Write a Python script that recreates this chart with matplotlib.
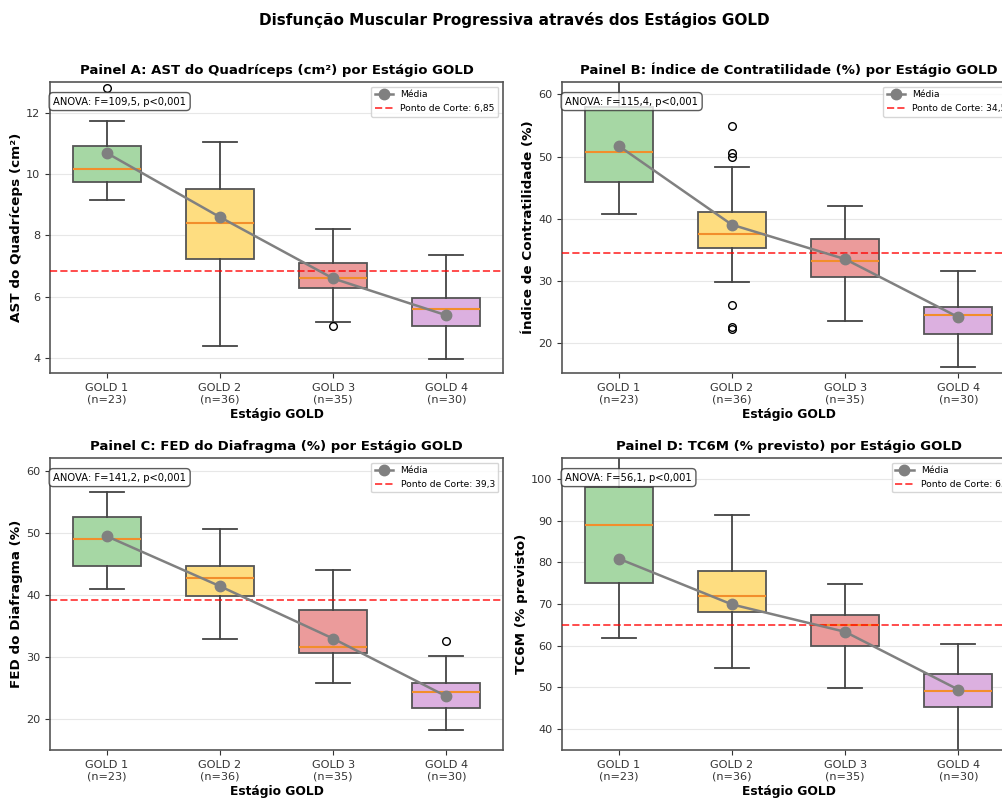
import matplotlib
matplotlib.use('Agg')
import matplotlib.pyplot as plt

# dados (estatísticas dos boxplots por estágio GOLD)
stages = ['GOLD 1', 'GOLD 2', 'GOLD 3', 'GOLD 4']
n_per_stage = [23, 36, 35, 30]
box_colors = ['#a6d7a4', '#fedd80', '#eb9b9b', '#dcb0e0']

# Painel A - AST do Quadríceps
a_lo = [9.17, 4.41, 5.18, 3.99]
a_q1 = [9.74, 7.22, 6.30, 5.04]
a_med = [10.17, 8.42, 6.61, 5.62]
a_q3 = [10.91, 9.50, 7.09, 5.95]
a_hi = [11.73, 11.06, 8.20, 7.36]
a_mean = [10.69, 8.60, 6.60, 5.40]
a_fliers = [[12.80], [], [5.05], []]

# Painel B - Índice de Contratilidade
b_lo = [40.75, 29.73, 23.55, 16.08]
b_q1 = [45.97, 35.27, 30.59, 21.45]
b_med = [50.75, 37.58, 33.12, 24.46]
b_q3 = [57.90, 41.02, 36.67, 25.86]
b_hi = [66.0, 48.33, 41.99, 31.51]
b_mean = [51.72, 39.03, 33.49, 24.14]
b_fliers = [[], [54.95, 50.54, 50.0, 26.18, 22.63, 22.31], [], []]

# Painel C - FED do Diafragma
c_lo = [40.97, 32.94, 25.88, 18.27]
c_q1 = [44.69, 39.89, 30.67, 21.73]
c_med = [49.00, 42.70, 31.64, 24.31]
c_q3 = [52.61, 44.74, 37.63, 25.82]
c_hi = [56.66, 50.73, 44.10, 30.19]
c_mean = [49.54, 41.46, 32.99, 23.67]
c_fliers = [[], [], [], [32.56]]

# Painel D - TC6M
d_lo = [61.83, 54.77, 49.96, 33.0]
d_q1 = [75.06, 68.00, 59.90, 45.39]
d_med = [89.01, 72.01, 64.88, 49.24]
d_q3 = [98.2, 78.03, 67.28, 53.25]
d_hi = [110.0, 91.34, 74.90, 60.47]
d_mean = [80.91, 69.93, 63.35, 49.48]
d_fliers = [[], [], [], []]

titles = ['Painel A: AST do Quadríceps (cm²) por Estágio GOLD',
          'Painel B: Índice de Contratilidade (%) por Estágio GOLD',
          'Painel C: FED do Diafragma (%) por Estágio GOLD',
          'Painel D: TC6M (% previsto) por Estágio GOLD']
ylabels = ['AST do Quadríceps (cm²)', 'Índice de Contratilidade (%)',
           'FED do Diafragma (%)', 'TC6M (% previsto)']
anova_f = ['109,5', '115,4', '141,2', '56,1']
cutoffs = [6.85, 34.5, 39.3, 65]
cutoff_labels = ['6,85', '34,5', '39,3', '65']
ylims = [(3.52, 13.0), (15.16, 62.0), (15.0, 62.16), (35.0, 105.05)]
yticks = [[4, 6, 8, 10, 12], [20, 30, 40, 50, 60], [20, 30, 40, 50, 60],
          [40, 50, 60, 70, 80, 90, 100]]

panels = [
    (a_lo, a_q1, a_med, a_q3, a_hi, a_mean, a_fliers),
    (b_lo, b_q1, b_med, b_q3, b_hi, b_mean, b_fliers),
    (c_lo, c_q1, c_med, c_q3, c_hi, c_mean, c_fliers),
    (d_lo, d_q1, d_med, d_q3, d_hi, d_mean, d_fliers),
]

W, H = 1003, 800
fig = plt.figure(figsize=(W / 100, H / 100), dpi=100)

# posições dos eixos em pixels (esq, topo, dir, base) - painéis da direita saem da figura
boxes_px = [(50, 82, 503, 373), (562, 82, 1015, 373),
            (50, 458, 503, 750), (562, 458, 1015, 750)]

xt_labels = [f"{s}\n(n={n})" for s, n in zip(stages, n_per_stage)]
dark = '#444444'

for i, (lo, q1, med, q3, hi, mean, fliers) in enumerate(panels):
    l, t, r, b = boxes_px[i]
    ax = fig.add_axes([l / W, 1 - b / H, (r - l) / W, (b - t) / H])

    stats = []
    for k in range(len(stages)):
        stats.append({'whislo': lo[k], 'q1': q1[k], 'med': med[k], 'q3': q3[k],
                      'whishi': hi[k], 'fliers': fliers[k], 'label': xt_labels[k]})

    bp = ax.bxp(stats, positions=[1, 2, 3, 4], widths=0.6, patch_artist=True,
                boxprops=dict(edgecolor='#555555', linewidth=1.3),
                whiskerprops=dict(color=dark, linewidth=1.3),
                capprops=dict(color=dark, linewidth=1.3),
                medianprops=dict(color='#f28e2b', linewidth=1.5),
                flierprops=dict(marker='o', markerfacecolor='none',
                                markeredgecolor='black', markersize=5.5))
    for patch, col in zip(bp['boxes'], box_colors):
        patch.set_facecolor(col)

    ax.plot([1, 2, 3, 4], mean, color='gray', marker='o', markersize=7.5,
            linewidth=1.8, label='Média', zorder=5)
    ax.axhline(cutoffs[i], color='red', linestyle='--', linewidth=1.4, alpha=0.7,
               label=f'Ponto de Corte: {cutoff_labels[i]}', zorder=4)

    ax.set_xlim(0.5, 4.5)
    ax.set_ylim(*ylims[i])
    ax.set_yticks(yticks[i])
    ax.tick_params(labelsize=8.1, colors='#333333')
    ax.set_xticklabels(xt_labels)
    ax.set_title(titles[i], fontsize=9.5, fontweight='bold', pad=6)
    ax.set_ylabel(ylabels[i], fontsize=9.7, fontweight='bold', labelpad=2)
    ax.set_xlabel('Estágio GOLD', fontsize=8.8, fontweight='bold', labelpad=3)
    ax.grid(True, axis='y', alpha=0.3)
    ax.set_axisbelow(True)
    for sp in ax.spines.values():
        sp.set_color('#555555')
        sp.set_linewidth(1.2)

    ax.text(0.007, 0.95, f'ANOVA: F={anova_f[i]}, p<0,001', transform=ax.transAxes,
            fontsize=7.2, va='top', ha='left', zorder=10,
            bbox=dict(boxstyle='round,pad=0.4', facecolor='white', edgecolor='#333333',
                      alpha=0.8))
    ax.legend(loc='upper right', fontsize=6.6, framealpha=0.8)

fig.text(514 / W, 1 - 20 / H, 'Disfunção Muscular Progressiva através dos Estágios GOLD',
         ha='center', va='center', fontsize=11, fontweight='bold')

fig.savefig('out.png', dpi=100)
